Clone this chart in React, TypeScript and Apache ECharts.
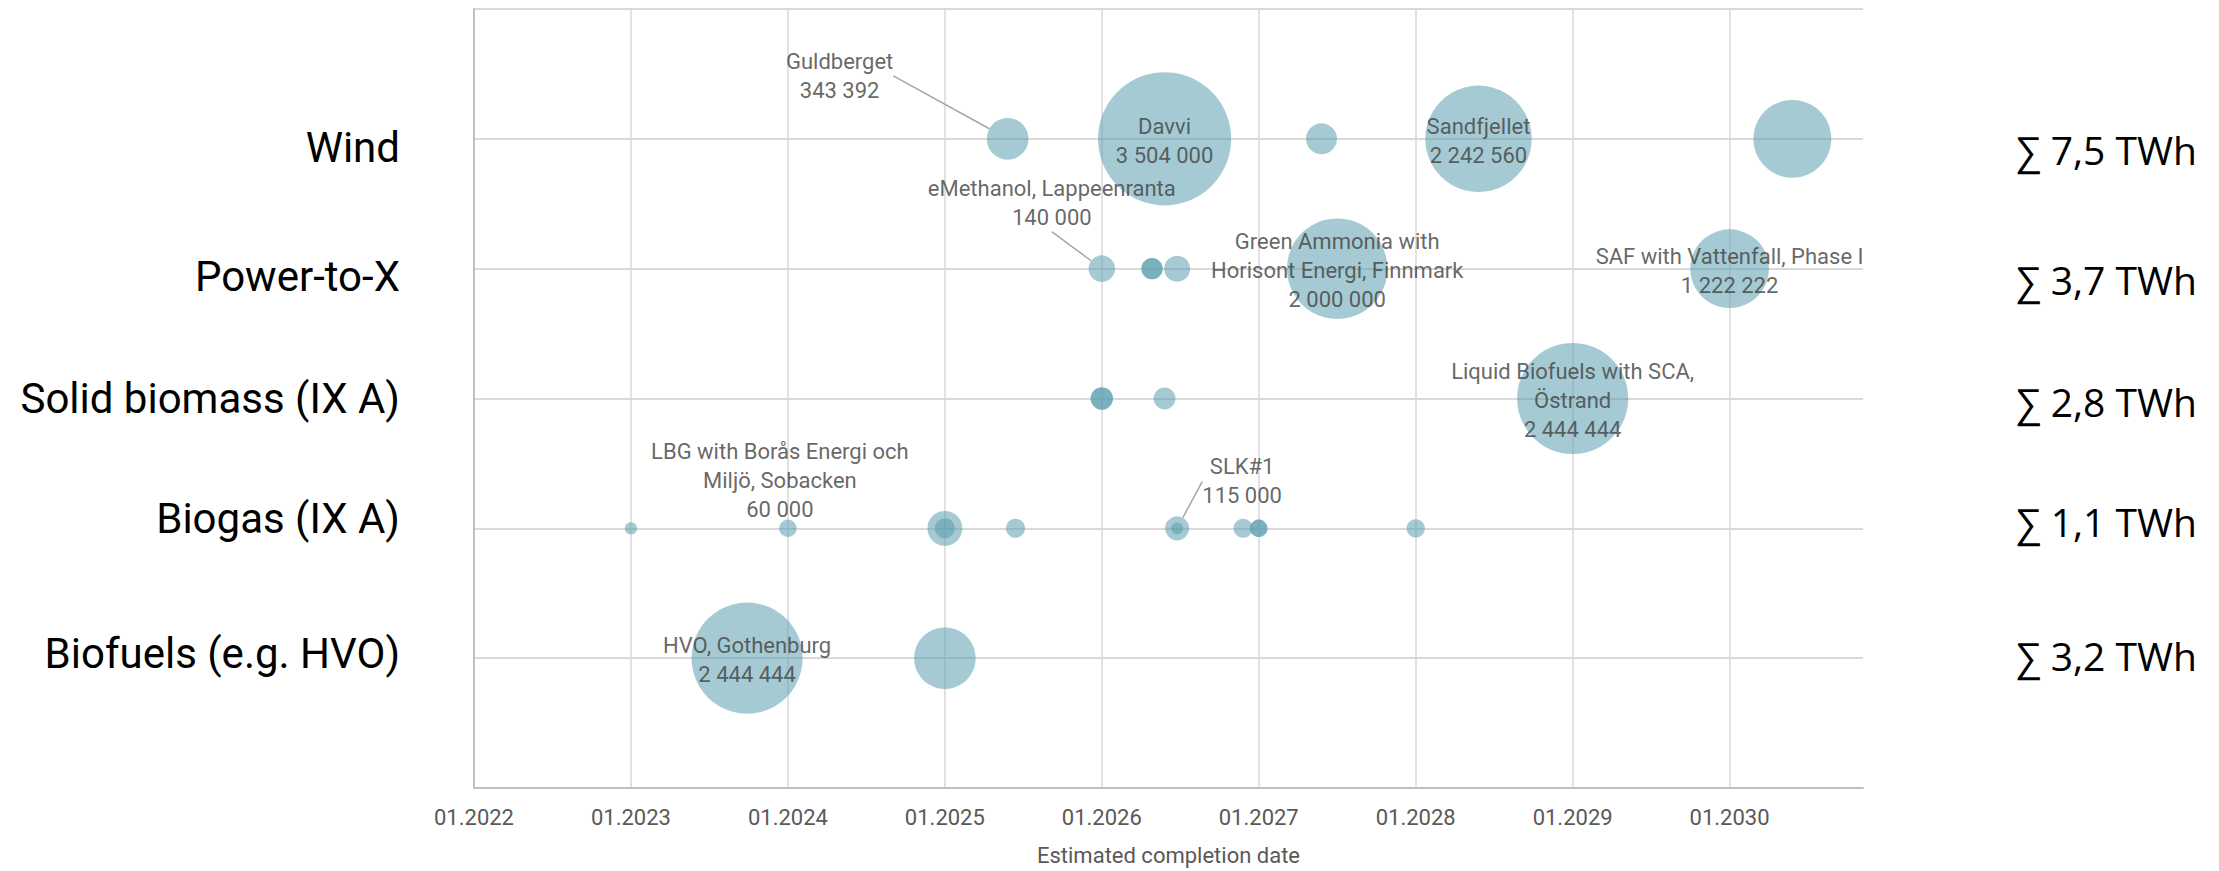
import React, { useEffect, useRef } from "react";
import * as echarts from "echarts";

// ---- Data (values in MWh, dates as decimal years) ----
const rowNames = ["Biofuels (e.g. HVO)", "Biogas (IX A)", "Solid biomass (IX A)", "Power-to-X", "Wind"]; // y = 1..5
const rowSums = ["∑ 3,2 TWh", "∑ 1,1 TWh", "∑ 2,8 TWh", "∑ 3,7 TWh", "∑ 7,5 TWh"];

const windDates = [2025.4, 2026.4, 2027.4, 2028.4, 2030.4];
const windValues = [343392, 3504000, 190000, 2242560, 1200000];
const windNames = ["Guldberget", "Davvi", "", "Sandfjellet", ""];

const ptxDates = [2026.0, 2026.32, 2026.32, 2026.48, 2027.5, 2030.0];
const ptxValues = [140000, 90000, 90000, 134000, 2000000, 1222222];
const ptxNames = ["eMethanol, Lappeenranta", "", "", "", "Green Ammonia with\nHorisont Energi, Finnmark", "SAF with Vattenfall, Phase I"];

const solidDates = [2026.0, 2026.0, 2026.4, 2029.0];
const solidValues = [100000, 100000, 95000, 2444444];
const solidNames = ["", "", "", "Liquid Biofuels with SCA,\nÖstrand"];

const biogasDates = [2023.0, 2024.0, 2025.0, 2025.0, 2025.45, 2026.48, 2026.48, 2026.9, 2027.0, 2027.0, 2028.0];
const biogasValues = [30000, 60000, 240000, 80000, 72000, 115000, 28000, 72000, 60000, 60000, 66000];
const biogasNames = ["", "LBG with Borås Energi och\nMiljö, Sobacken", "", "", "", "SLK#1", "", "", "", "", ""];

const biofuelDates = [2023.74, 2025.0];
const biofuelValues = [2444444, 750000];
const biofuelNames = ["HVO, Gothenburg", ""];

const xTickYears = [2022, 2023, 2024, 2025, 2026, 2027, 2028, 2029, 2030];

// ---- Styling / layout ----
const FONT = "Roboto, 'Noto Sans', sans-serif";
const SUM_FONT = "'Open Sans', 'DejaVu Sans', sans-serif";
const SIZE_K = 0.0711; // px of diameter per sqrt(MWh)
const BUBBLE = "rgba(88,156,173,0.67)";

const labelOffsets: Record<string, { dx: number; dy: number; line?: string }> = {
  Guldberget: { dx: -168, dy: -63, line: "right" },
  "eMethanol, Lappeenranta": { dx: -50, dy: -66, line: "below" },
  "SLK#1": { dx: 65, dy: -47, line: "left" },
  "LBG with Borås Energi och\nMiljö, Sobacken": { dx: -8, dy: -48 },
};

const leftLabelY = [653, 518, 398, 276, 147];
const sumLabelY = [655, 521, 401, 279, 149];

const fmt = (v: number) => String(v).replace(/\B(?=(\d{3})+(?!\d))/g, " ");

export default function App() {
  const ref = useRef<HTMLDivElement>(null);

  useEffect(() => {
    if (!ref.current) return;
    const chart = echarts.init(ref.current, null, { renderer: "svg" });

    const groups = [
      { row: 5, dates: windDates, values: windValues, names: windNames },
      { row: 4, dates: ptxDates, values: ptxValues, names: ptxNames },
      { row: 3, dates: solidDates, values: solidValues, names: solidNames },
      { row: 2, dates: biogasDates, values: biogasValues, names: biogasNames },
      { row: 1, dates: biofuelDates, values: biofuelValues, names: biofuelNames },
    ];

    const items: any[] = [];
    groups.forEach((g) => {
      g.dates.forEach((d, i) => {
        const name = g.names[i];
        const item: any = { value: [d, g.row, g.values[i]], name };
        if (name) {
          item.label = { show: true };
          const off = labelOffsets[name];
          if (off && off.line) {
            item.labelLine = { show: true, lineStyle: { color: "#a6a6a6", width: 1.5 } };
          }
        }
        items.push(item);
      });
    });

    const graphics: any[] = [];
    rowNames.forEach((n, i) => {
      graphics.push({
        type: "text",
        x: 400,
        y: leftLabelY[i],
        style: { text: n, fontSize: 42, fontFamily: FONT, fill: "#000", align: "right", verticalAlign: "middle" },
      });
      graphics.push({
        type: "text",
        x: 2016,
        y: sumLabelY[i],
        style: { text: rowSums[i], fontSize: 39, fontFamily: SUM_FONT, fill: "#000", align: "left", verticalAlign: "middle" },
      });
    });

    const option: any = {
      animation: false,
      backgroundColor: "#fff",
      grid: { left: 474, right: 356, top: 9, bottom: 83, containLabel: false, outerBoundsMode: "none" },
      xAxis: {
        type: "value",
        min: xTickYears[0],
        max: 2030.85,
        interval: 1,
        axisLine: { show: true, onZero: false, lineStyle: { color: "#bfbfbf", width: 2 } },
        axisTick: { show: false },
        axisLabel: {
          color: "#595959",
          fontSize: 22,
          fontFamily: FONT,
          margin: 18,
          formatter: (v: number) => (xTickYears.indexOf(v) >= 0 ? "01." + v : ""),
        },
        splitLine: { show: true, showMinLine: false, showMaxLine: false, lineStyle: { color: "#d9d9d9", width: 1.5 } },
        name: "Estimated completion date",
        nameLocation: "middle",
        nameGap: 56,
        nameTextStyle: { color: "#595959", fontSize: 22, fontFamily: FONT },
      },
      yAxis: {
        type: "value",
        min: 0,
        max: 6,
        interval: 1,
        axisLine: { show: true, lineStyle: { color: "#bfbfbf", width: 2 } },
        axisTick: { show: false },
        axisLabel: { show: false },
        splitLine: { show: true, showMinLine: false, lineStyle: { color: "#d9d9d9", width: 2 } },
      },
      series: [
        {
          type: "scatter",
          data: items,
          symbol: "circle",
          symbolSize: (val: number[]) => Math.sqrt(val[2]) * SIZE_K,
          itemStyle: { color: BUBBLE },
          label: {
            show: false,
            position: "inside",
            color: "#404040",
            fontSize: 22,
            fontFamily: FONT,
            lineHeight: 29,
            align: "center",
            formatter: (p: any) => (p.name ? p.name + "\n" + fmt(p.value[2]) : ""),
          },
          emphasis: { disabled: true },
          labelLayout: (params: any) => {
            const item = items[params.dataIndex];
            if (!item || !item.name) return {};
            const off = labelOffsets[item.name];
            const cx = params.rect.x + params.rect.width / 2;
            const cy = params.rect.y + params.rect.height / 2;
            if (!off) return { x: cx, y: cy + 2, align: "center", verticalAlign: "middle" };
            const x = cx + off.dx;
            const y = cy + off.dy;
            const w = params.labelRect.width;
            const h = params.labelRect.height;
            const res: any = { x, y, align: "center", verticalAlign: "middle" };
            if (off.line === "right") {
              res.labelLinePoints = [[x + w / 2 + 8, y - 2], [x + w / 2 + 18, y - 2], [cx, cy]];
            } else if (off.line === "below") {
              res.labelLinePoints = [[x, y + h / 2 + 3], [x, y + h / 2 + 3], [cx - 1, cy]];
            } else if (off.line === "left") {
              res.labelLinePoints = [[x - w / 2 - 8, y], [x - w / 2 - 19, y], [cx, cy]];
            }
            return res;
          },
        },
      ],
      graphic: graphics,
    };

    chart.setOption(option);
    return () => chart.dispose();
  }, []);

  return <div ref={ref} style={{ position: "absolute", left: 0, top: 0, width: 2219, height: 871 }} />;
}
